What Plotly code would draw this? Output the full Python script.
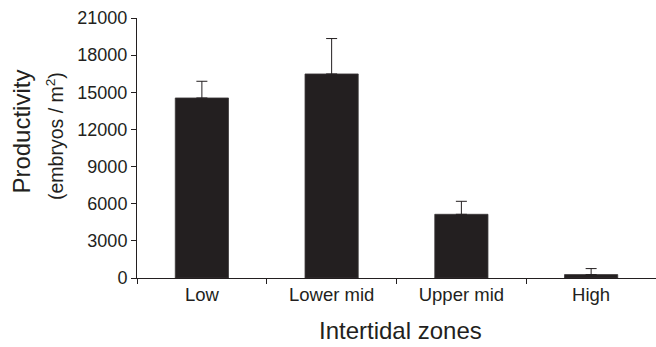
import plotly.graph_objects as go

zones = ["Low", "Lower mid", "Upper mid", "High"]
productivity = [14540, 16480, 5145, 275]
error_plus = [1350, 2860, 1050, 485]
y_ticks = [0, 3000, 6000, 9000, 12000, 15000, 18000, 21000]

ink = "#231f20"
font_family = "Liberation Sans, Arial, Helvetica, sans-serif"

fig = go.Figure()
fig.add_trace(go.Bar(
    x=zones,
    y=productivity,
    width=0.41,
    marker=dict(color=ink, line=dict(color="#3a3637", width=0.8)),
    error_y=dict(type="data", array=error_plus, arrayminus=[0] * len(error_plus),
                 symmetric=False, color=ink, thickness=1, width=5.5),
))

fig.update_layout(
    width=656, height=347,
    margin=dict(l=137, r=0, t=18, b=69),
    plot_bgcolor="white", paper_bgcolor="white",
    showlegend=False,
    font=dict(family=font_family, color=ink, size=18),
    xaxis=dict(
        type="category",
        range=[-0.5, 3.5],
        tickson="boundaries",
        ticks="outside", ticklen=5, tickwidth=1, tickcolor=ink,
        showline=True, linecolor=ink, linewidth=1,
        showgrid=False, zeroline=False,
        tickfont=dict(size=18.5),
    ),
    yaxis=dict(
        range=[0, 21000],
        tickvals=y_ticks,
        ticktext=[str(v) for v in y_ticks],
        ticks="outside", ticklen=5, tickwidth=1, tickcolor=ink,
        showline=True, linecolor=ink, linewidth=1,
        showgrid=False, zeroline=False,
        tickfont=dict(size=18),
    ),
    annotations=[
        dict(text="Productivity", xref="paper", yref="paper", x=0, y=0.563,
             xshift=-115, textangle=-90, showarrow=False,
             font=dict(size=24), xanchor="center", yanchor="middle"),
        dict(text="(embryos / m<sup>2</sup>)", xref="paper", yref="paper", x=0, y=0.546,
             xshift=-82, textangle=-90, showarrow=False,
             font=dict(size=19.5), xanchor="center", yanchor="middle"),
        dict(text="Intertidal zones", xref="paper", yref="paper", x=0.5, y=0,
             xshift=4, yshift=-52, showarrow=False,
             font=dict(size=24), xanchor="center", yanchor="middle"),
    ],
)

fig.write_html("out.html")
